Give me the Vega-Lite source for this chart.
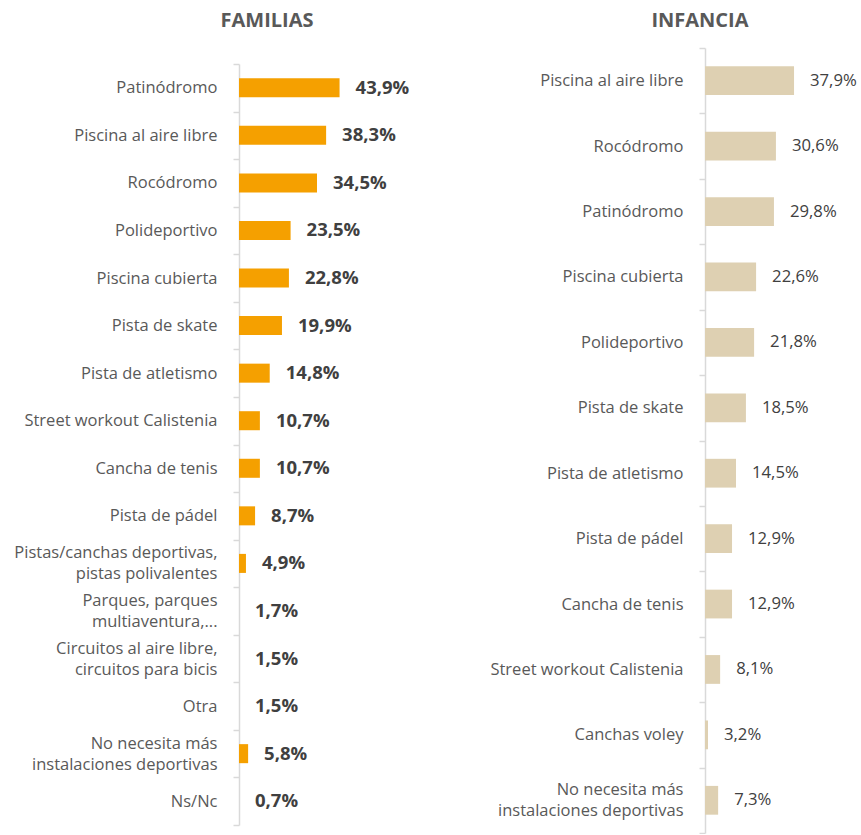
{
  "$schema": "https://vega.github.io/schema/vega-lite/v6.json",
  "padding": {"left": 13, "top": 11, "right": 0, "bottom": 0},
  "background": "white",
  "config": {
    "view": {"stroke": null},
    "font": "Open Sans",
    "concat": {"spacing": 50},
    "axisY": {
      "title": null,
      "domainColor": "#d9d9d9",
      "domainWidth": 1.5,
      "tickColor": "#d9d9d9",
      "tickWidth": 1.5,
      "tickSize": 6,
      "tickBand": "extent",
      "labelColor": "#595959",
      "labelFont": "Open Sans",
      "labelFontSize": 16.5,
      "labelPadding": 16,
      "labelLineHeight": 21,
      "labelLimit": 0,
      "labelOffset": {"condition": {"test": "indexof(datum.label, '\\n') >= 0", "value": -10.5}, "value": 0},
      "labelExpr": "split(datum.label, '\\n')"
    },
    "title": {"font": "Open Sans", "fontSize": 20, "fontWeight": "bold", "color": "#595959", "anchor": "middle", "frame": "group"}
  },
  "datasets": {
    "familias": [
      {"cat": "Patinódromo", "pct": 43.9},
      {"cat": "Piscina al aire libre", "pct": 38.3},
      {"cat": "Rocódromo", "pct": 34.5},
      {"cat": "Polideportivo", "pct": 23.5},
      {"cat": "Piscina cubierta", "pct": 22.8},
      {"cat": "Pista de skate", "pct": 19.9},
      {"cat": "Pista de atletismo", "pct": 14.8},
      {"cat": "Street workout Calistenia", "pct": 10.7},
      {"cat": "Cancha de tenis", "pct": 10.7},
      {"cat": "Pista de pádel", "pct": 8.7},
      {"cat": "Pistas/canchas deportivas,\npistas polivalentes", "pct": 4.9},
      {"cat": "Parques, parques\nmultiaventura,...", "pct": 1.7},
      {"cat": "Circuitos al aire libre,\ncircuitos para bicis", "pct": 1.5},
      {"cat": "Otra", "pct": 1.5},
      {"cat": "No necesita más\ninstalaciones deportivas", "pct": 5.8},
      {"cat": "Ns/Nc", "pct": 0.7}
    ],
    "infancia": [
      {"cat": "Piscina al aire libre", "pct": 37.9},
      {"cat": "Rocódromo", "pct": 30.6},
      {"cat": "Patinódromo", "pct": 29.8},
      {"cat": "Piscina cubierta", "pct": 22.6},
      {"cat": "Polideportivo", "pct": 21.8},
      {"cat": "Pista de skate", "pct": 18.5},
      {"cat": "Pista de atletismo", "pct": 14.5},
      {"cat": "Pista de pádel", "pct": 12.9},
      {"cat": "Cancha de tenis", "pct": 12.9},
      {"cat": "Street workout Calistenia", "pct": 8.1},
      {"cat": "Canchas voley", "pct": 3.2},
      {"cat": "No necesita más\ninstalaciones deportivas", "pct": 7.3}
    ]
  },
  "hconcat": [
    {
      "title": {"text": "FAMILIAS", "dx": -72, "offset": 9},
      "width": 200,
      "height": 777,
      "data": {"name": "familias"},
      "encoding": {
        "y": {"field": "cat", "type": "nominal", "sort": null, "scale": {"paddingInner": 0, "paddingOuter": 0, "range": [16, 777]}},
        "x": {"field": "pct", "type": "quantitative", "axis": null, "scale": {"domain": [2, 85.33], "nice": false, "zero": false, "clamp": true}}
      },
      "layer": [
        {"mark": {"type": "bar", "color": "#F5A000", "height": {"band": 0.4}}},
        {"mark": {"type": "text", "align": "left", "baseline": "middle", "dx": 16, "font": "Open Sans", "fontSize": 18.5, "fontWeight": "bold", "color": "#404040",
          "text": {"expr": "replace(format(datum.pct, '.1f'), '.', ',') + '%'"}}}
      ]
    },
    {
      "title": {"text": "INFANCIA", "dx": -80, "offset": 9},
      "width": 150,
      "height": 785,
      "data": {"name": "infancia"},
      "encoding": {
        "y": {"field": "cat", "type": "nominal", "sort": null, "scale": {"paddingInner": 0, "paddingOuter": 0}},
        "x": {"field": "pct", "type": "quantitative", "axis": null, "scale": {"domain": [2, 62.48], "nice": false, "zero": false, "clamp": true}}
      },
      "layer": [
        {"mark": {"type": "bar", "color": "#DED0B2", "height": {"band": 0.44}}},
        {"mark": {"type": "text", "align": "left", "baseline": "middle", "dx": 16, "font": "Open Sans", "fontSize": 16.7, "color": "#404040",
          "text": {"expr": "replace(format(datum.pct, '.1f'), '.', ',') + '%'"}}}
      ]
    }
  ]
}
